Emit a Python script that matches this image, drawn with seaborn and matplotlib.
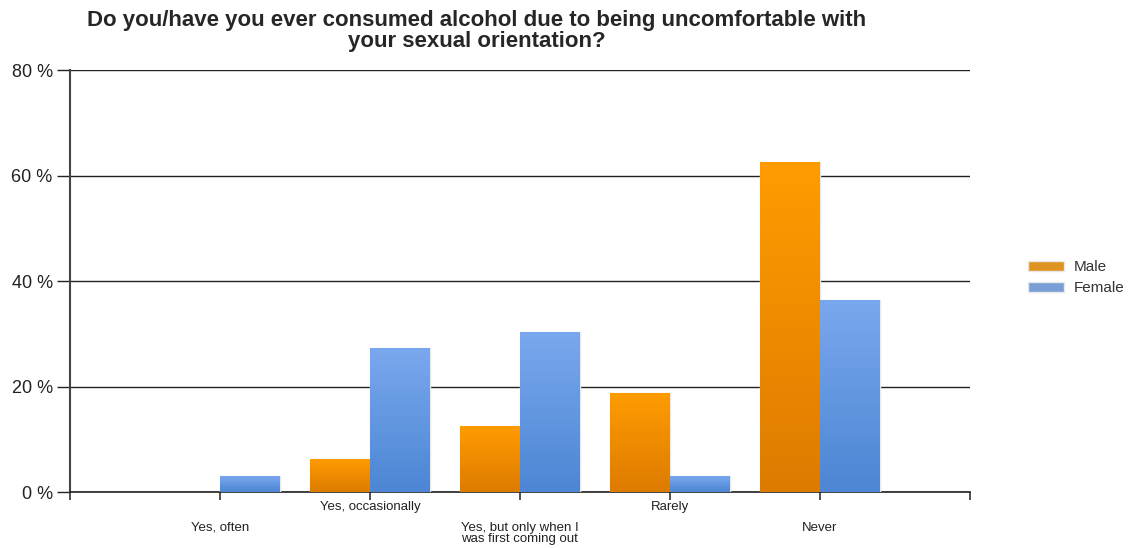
import numpy as np
import pandas as pd
import seaborn as sns
import matplotlib.pyplot as plt
from matplotlib.colors import LinearSegmentedColormap

categories = ['Yes, often', 'Yes, occasionally', 'Yes, but only when I\nwas first coming out', 'Rarely', 'Never']
male = [0.0, 6.25, 12.5, 18.75, 62.5]
female = [3.03, 27.27, 30.3, 3.03, 36.36]
series = ['Male', 'Female']

df = pd.DataFrame({
    'answer': categories * 2,
    'gender': ['Male'] * len(categories) + ['Female'] * len(categories),
    'pct': male + female,
})

sns.set_style('white')
plt.rcParams['font.family'] = ['Liberation Sans', 'DejaVu Sans']

fig, ax = plt.subplots(figsize=(11.3, 5.48), dpi=100)
fig.subplots_adjust(left=0.062, right=0.858, top=0.872, bottom=0.102)

colors = {'Male': '#FF9A00', 'Female': '#6A9BE4'}
sns.barplot(data=df, x='answer', y='pct', hue='gender', order=categories,
            hue_order=series, palette=colors, width=0.8, ax=ax,
            edgecolor='#e8e8e8', linewidth=1, zorder=3, legend=True)

# vertical gradient on each bar
grads = {
    'Male': LinearSegmentedColormap.from_list('m', ['#DD7B00', '#FF9C00']),
    'Female': LinearSegmentedColormap.from_list('f', ['#4C86D4', '#7AA8EE']),
}
grad = np.linspace(0, 1, 256).reshape(-1, 1)
for cont, name in zip(ax.containers, series):
    for bar in cont:
        h = bar.get_height()
        if h <= 0:
            bar.set_linewidth(0)
            continue
        x0 = bar.get_x()
        w = bar.get_width()
        im = ax.imshow(grad, cmap=grads[name], origin='lower', aspect='auto',
                       extent=[x0, x0 + w, 0, h], zorder=3.5)
        im.set_clip_path(bar)

ax.set_xlim(-1, 5)
ax.set_ylim(0, 80)
ax.set_yticks([0, 20, 40, 60, 80])
ax.set_yticklabels([f'{v} %' for v in [0, 20, 40, 60, 80]], fontsize=13, color='#222222')
ax.yaxis.grid(True, color='#222222', linewidth=1, zorder=0)
ax.set_axisbelow(True)

ax.set_xticks(np.arange(-1, 6))
ax.set_xticklabels([''] * 7)
ax.tick_params(axis='x', direction='out', length=6, width=1.2, color='#333333', bottom=True)
ax.tick_params(axis='y', direction='out', length=9.5, width=1, color='#222222', left=True, pad=3)

for i, lab in enumerate(categories):
    yoff = -0.022 if i % 2 == 1 else -0.07
    ax.text(i, yoff, lab, transform=ax.get_xaxis_transform(), ha='center', va='top',
            fontsize=9.5, color='#222222', linespacing=0.95)

ax.set_xlabel('')
ax.set_ylabel('')
for s in ['top', 'right']:
    ax.spines[s].set_visible(False)
ax.spines['left'].set_color('#444444')
ax.spines['left'].set_linewidth(1.5)
ax.spines['bottom'].set_color('#222222')
ax.spines['bottom'].set_linewidth(1.2)

leg = ax.legend(loc='center left', bbox_to_anchor=(1.058, 0.508), frameon=False,
                fontsize=11, handlelength=2.4, handleheight=0.6, handletextpad=0.6,
                labelspacing=0.45, borderaxespad=0)
for t in leg.get_texts():
    t.set_color('#333333')

fig.text(0.422, 0.982, 'Do you/have you ever consumed alcohol due to being uncomfortable with\nyour sexual orientation?',
         ha='center', va='top', fontsize=16, fontweight='bold', linespacing=1.0)

fig.savefig('out.png', dpi=100)
